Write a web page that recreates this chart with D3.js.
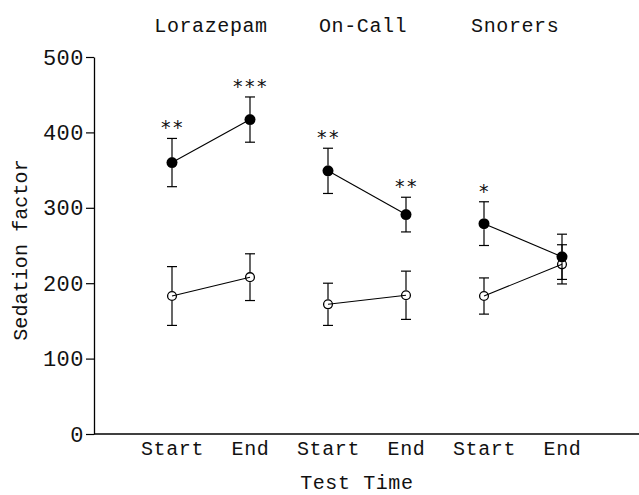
<!DOCTYPE html>
<html>
<head>
<meta charset="utf-8">
<script src="https://cdn.jsdelivr.net/npm/d3@7"></script>
<style>
  body { margin: 0; background: #fff; }
  text { font-family: "Liberation Mono", monospace; fill: #111; }
  text.star { font-family: "DejaVu Sans", sans-serif; }
</style>
</head>
<body>
<div id="chart"></div>
<script>
// datos
const groups = ["Lorazepam", "On-Call", "Snorers"];
const groupPos = [1.5, 3.45, 5.4];
const timeLabels = ["Start", "End", "Start", "End", "Start", "End"];
const timePos = [1, 2, 3, 4, 5, 6];
const filledMeans = [360, 417, 349, 291, 279, 235];
const filledErr = [32, 30, 30, 23, 29, 30];
const openMeans = [183, 208, 172, 184, 183, 225];
const openErr = [39, 31, 28, 32, 24, 26];
const stars = ["**", "***", "**", "**", "*", ""];
const yTicks = [0, 100, 200, 300, 400, 500];

const W = 639, H = 495;
const FS = 20;

const svg = d3.select("#chart").append("svg")
  .attr("width", W).attr("height", H);

const x = d3.scaleLinear().domain([0, 7]).range([94, 640]);
const y = d3.scaleLinear().domain([0, 500]).range([434, 57]);

// eje Y
const yAxis = svg.append("g")
  .attr("transform", `translate(${x(0)},0)`)
  .call(d3.axisLeft(y).tickValues(yTicks).tickSize(8).tickSizeOuter(0).tickPadding(2));
yAxis.select(".domain").attr("stroke", "#000").attr("stroke-width", 1.3);
yAxis.selectAll(".tick line").attr("stroke", "#000").attr("stroke-width", 1.2);
yAxis.selectAll("text")
  .style("font-size", "22px").style("letter-spacing", "0.5px")
  .attr("font-family", null).attr("font-size", null);

// eje X
const xAxis = svg.append("g")
  .attr("transform", `translate(0,${y(0)})`)
  .call(d3.axisBottom(x).tickValues(timePos).tickSize(0).tickSizeOuter(0).tickPadding(7)
    .tickFormat((d, i) => timeLabels[i]));
xAxis.select(".domain").attr("stroke", "#000").attr("stroke-width", 1.3)
  .attr("d", `M${x(0)},0H${x(7)}`);
xAxis.selectAll("text")
  .style("font-size", FS + "px").style("letter-spacing", "0.6px")
  .attr("font-family", null).attr("font-size", null);

// titulos de grupo
svg.selectAll(".grp").data(groups).enter().append("text")
  .attr("class", "grp")
  .attr("x", (d, i) => x(groupPos[i]))
  .attr("y", 32)
  .attr("text-anchor", "middle")
  .style("font-size", FS + "px").style("letter-spacing", "0.6px")
  .text(d => d);

// etiquetas de ejes
svg.append("text")
  .attr("transform", `translate(27,${250}) rotate(-90)`)
  .attr("text-anchor", "middle")
  .style("font-size", FS + "px").style("letter-spacing", "0.1px")
  .text("Sedation factor");

svg.append("text")
  .attr("x", x(3.37)).attr("y", 489)
  .attr("text-anchor", "middle")
  .style("font-size", FS + "px").style("letter-spacing", "0.6px")
  .text("Test Time");

// series
const series = [
  { means: filledMeans, err: filledErr, filled: true, r: 5.5 },
  { means: openMeans, err: openErr, filled: false, r: 5 }
];

const plot = svg.append("g");

series.forEach(s => {
  // barras de error
  s.means.forEach((m, i) => {
    const cx = x(timePos[i]);
    const top = y(m + s.err[i]), bot = y(m - s.err[i]), c = y(m);
    plot.append("line").attr("x1", cx).attr("x2", cx)
      .attr("y1", top).attr("y2", c - s.r).attr("stroke", "#000").attr("stroke-width", 1.2);
    plot.append("line").attr("x1", cx).attr("x2", cx)
      .attr("y1", c + s.r).attr("y2", bot).attr("stroke", "#000").attr("stroke-width", 1.2);
    [top, bot].forEach(yy => {
      plot.append("line").attr("x1", cx - 5).attr("x2", cx + 5)
        .attr("y1", yy).attr("y2", yy).attr("stroke", "#000").attr("stroke-width", 1.2);
    });
  });
  // lineas Start-End
  for (let g = 0; g < 3; g++) {
    const a = 2 * g, b = 2 * g + 1;
    plot.append("line")
      .attr("x1", x(timePos[a])).attr("y1", y(s.means[a]))
      .attr("x2", x(timePos[b])).attr("y2", y(s.means[b]))
      .attr("stroke", "#000").attr("stroke-width", 1.1);
  }
});

series.forEach(s => {
  plot.selectAll(null).data(s.means).enter().append("circle")
    .attr("cx", (d, i) => x(timePos[i]))
    .attr("cy", d => y(d))
    .attr("r", s.filled ? s.r : s.r - 0.6)
    .attr("fill", s.filled ? "#000" : "none")
    .attr("stroke", "#000")
    .attr("stroke-width", s.filled ? 0 : 1.3);
});

// asteriscos
svg.selectAll(".star").data(stars).enter().append("text")
  .attr("class", "star")
  .attr("x", (d, i) => x(timePos[i]) + 1)
  .attr("y", (d, i) => y(filledMeans[i] + filledErr[i]) - 4)
  .attr("text-anchor", "middle")
  .style("font-size", "19px").style("letter-spacing", "2.5px")
  .text(d => d);
</script>
</body>
</html>
